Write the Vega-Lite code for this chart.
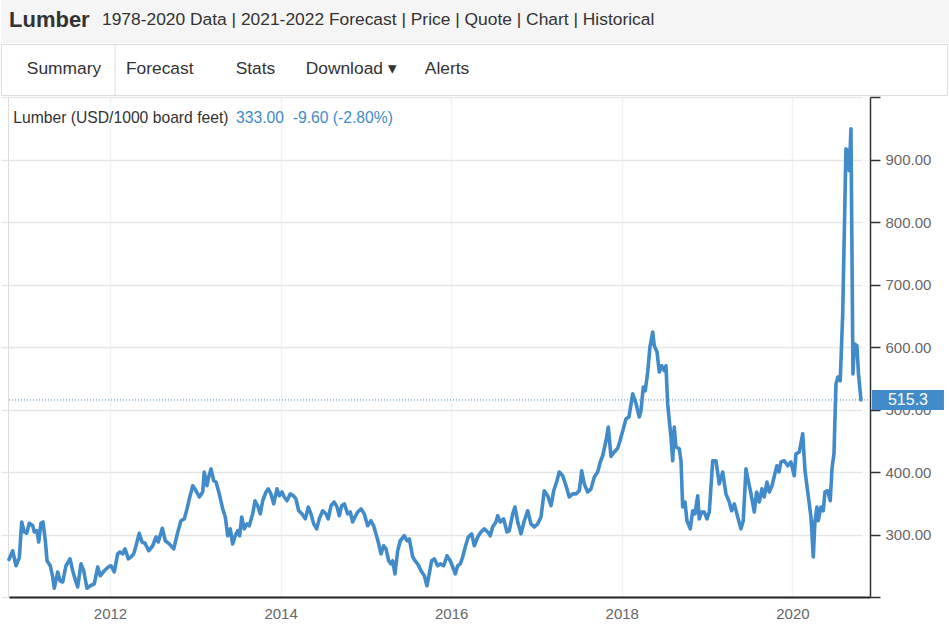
{
  "$schema": "https://vega.github.io/schema/vega-lite/v6.json",
  "padding": 0,
  "background": "#ffffff",
  "spacing": 0,
  "bounds": "full",
  "config": {
    "font": "Liberation Sans",
    "view": {"stroke": null}
  },
  "vconcat": [
    {
      "width": 949,
      "height": 43,
      "view": {"fill": "#f5f5f5", "stroke": null},
      "data": {"values": [{"part": "Lumber"}, {"part": "1978-2020 Data | 2021-2022 Forecast | Price | Quote | Chart | Historical"}]},
      "encoding": {
        "x": {"field": "part", "type": "nominal", "sort": null, "scale": {"type": "point", "range": [8, 101], "padding": 0}, "axis": null},
        "text": {"field": "part", "type": "nominal"}
      },
      "layer": [
        {"transform": [{"filter": "datum.part === 'Lumber'"}], "mark": {"type": "text", "align": "left", "baseline": "middle", "fontSize": 22, "fontWeight": "bold", "color": "#333333", "dy": -2}},
        {"transform": [{"filter": "datum.part !== 'Lumber'"}], "mark": {"type": "text", "align": "left", "baseline": "middle", "fontSize": 17.4, "color": "#333333", "dy": -2}}
      ]
    },
    {
      "width": 946,
      "height": 51,
      "view": {"stroke": "#dddddd", "fill": "#ffffff"},
      "data": {"values": [{"tab": "Summary"}, {"tab": "Forecast"}, {"tab": "Stats"}, {"tab": "Download ▾"}, {"tab": "Alerts"}]},
      "encoding": {"x": {"field": "tab", "type": "nominal", "sort": null, "scale": {"type": "point", "range": [63, 446], "padding": 0}, "axis": null}},
      "layer": [
        {"transform": [{"filter": "datum.tab === 'Summary'"}], "mark": {"type": "rule", "color": "#dddddd", "strokeWidth": 1, "xOffset": 51}},
        {"mark": {"type": "text", "fontSize": 17.4, "color": "#333333", "baseline": "middle", "dy": -1}, "encoding": {"text": {"field": "tab"}}}
      ]
    },
    {
      "width": 869,
      "height": 500,
      "view": {"stroke": null},
      "resolve": {"axis": {"y": "independent"}},
      "layer": [
        {
          "data": {"values": [
            {"year":2010.816,"price":260},{"year":2010.859,"price":274},{"year":2010.898,"price":250},{"year":2010.937,"price":263},{"year":2010.965,"price":320},{"year":2010.995,"price":304},{"year":2011.023,"price":302},{"year":2011.054,"price":318},{"year":2011.094,"price":314},{"year":2011.113,"price":304},
            {"year":2011.144,"price":306},{"year":2011.164,"price":288},{"year":2011.191,"price":318},{"year":2011.215,"price":320},{"year":2011.242,"price":290},{"year":2011.262,"price":258},{"year":2011.300,"price":250},{"year":2011.328,"price":232},{"year":2011.347,"price":214},{"year":2011.387,"price":240},
            {"year":2011.414,"price":226},{"year":2011.446,"price":224},{"year":2011.484,"price":250},{"year":2011.531,"price":261},{"year":2011.563,"price":242},{"year":2011.590,"price":229},{"year":2011.621,"price":216},{"year":2011.660,"price":253},{"year":2011.692,"price":242},{"year":2011.730,"price":214},
            {"year":2011.769,"price":218},{"year":2011.816,"price":221},{"year":2011.856,"price":248},{"year":2011.886,"price":234},{"year":2011.933,"price":242},{"year":2011.980,"price":248},{"year":2012.012,"price":250},{"year":2012.050,"price":240},{"year":2012.090,"price":269},{"year":2012.117,"price":272},
            {"year":2012.149,"price":269},{"year":2012.176,"price":277},{"year":2012.215,"price":261},{"year":2012.246,"price":264},{"year":2012.278,"price":269},{"year":2012.305,"price":282},{"year":2012.343,"price":302},{"year":2012.375,"price":288},{"year":2012.410,"price":286},{"year":2012.454,"price":274},
            {"year":2012.501,"price":282},{"year":2012.539,"price":296},{"year":2012.566,"price":288},{"year":2012.613,"price":310},{"year":2012.648,"price":290},{"year":2012.695,"price":285},{"year":2012.747,"price":277},{"year":2012.791,"price":302},{"year":2012.832,"price":322},{"year":2012.871,"price":325},
            {"year":2012.903,"price":341},{"year":2012.930,"price":357},{"year":2012.970,"price":378},{"year":2013.008,"price":370},{"year":2013.047,"price":360},{"year":2013.087,"price":368},{"year":2013.105,"price":400},{"year":2013.137,"price":378},{"year":2013.157,"price":392},{"year":2013.184,"price":405},
            {"year":2013.216,"price":386},{"year":2013.243,"price":384},{"year":2013.281,"price":365},{"year":2013.321,"price":341},{"year":2013.352,"price":328},{"year":2013.380,"price":298},{"year":2013.410,"price":309},{"year":2013.438,"price":285},{"year":2013.469,"price":298},{"year":2013.497,"price":306},
            {"year":2013.520,"price":298},{"year":2013.544,"price":328},{"year":2013.574,"price":309},{"year":2013.606,"price":317},{"year":2013.633,"price":314},{"year":2013.673,"price":333},{"year":2013.700,"price":354},{"year":2013.731,"price":346},{"year":2013.762,"price":333},{"year":2013.790,"price":354},
            {"year":2013.829,"price":368},{"year":2013.856,"price":373},{"year":2013.887,"price":365},{"year":2013.919,"price":349},{"year":2013.958,"price":373},{"year":2013.985,"price":362},{"year":2014.016,"price":368},{"year":2014.043,"price":360},{"year":2014.075,"price":354},{"year":2014.114,"price":365},
            {"year":2014.149,"price":362},{"year":2014.180,"price":357},{"year":2014.212,"price":338},{"year":2014.251,"price":333},{"year":2014.290,"price":325},{"year":2014.325,"price":344},{"year":2014.356,"price":333},{"year":2014.388,"price":317},{"year":2014.423,"price":309},{"year":2014.454,"price":325},
            {"year":2014.493,"price":338},{"year":2014.532,"price":333},{"year":2014.559,"price":325},{"year":2014.591,"price":346},{"year":2014.629,"price":352},{"year":2014.661,"price":344},{"year":2014.688,"price":330},{"year":2014.716,"price":346},{"year":2014.747,"price":349},{"year":2014.787,"price":333},
            {"year":2014.817,"price":336},{"year":2014.845,"price":320},{"year":2014.872,"price":328},{"year":2014.904,"price":336},{"year":2014.943,"price":341},{"year":2014.981,"price":333},{"year":2015.021,"price":314},{"year":2015.060,"price":322},{"year":2015.091,"price":314},{"year":2015.118,"price":301},
            {"year":2015.145,"price":288},{"year":2015.177,"price":269},{"year":2015.209,"price":282},{"year":2015.236,"price":277},{"year":2015.267,"price":258},{"year":2015.294,"price":253},{"year":2015.314,"price":258},{"year":2015.341,"price":237},{"year":2015.373,"price":274},{"year":2015.403,"price":290},
            {"year":2015.450,"price":298},{"year":2015.482,"price":290},{"year":2015.509,"price":293},{"year":2015.549,"price":264},{"year":2015.576,"price":258},{"year":2015.607,"price":253},{"year":2015.646,"price":242},{"year":2015.685,"price":234},{"year":2015.716,"price":218},{"year":2015.743,"price":237},
            {"year":2015.771,"price":258},{"year":2015.802,"price":261},{"year":2015.842,"price":250},{"year":2015.872,"price":253},{"year":2015.912,"price":250},{"year":2015.951,"price":266},{"year":2015.989,"price":258},{"year":2016.018,"price":248},{"year":2016.048,"price":237},{"year":2016.076,"price":250},
            {"year":2016.107,"price":253},{"year":2016.135,"price":264},{"year":2016.165,"price":280},{"year":2016.200,"price":296},{"year":2016.240,"price":301},{"year":2016.271,"price":282},{"year":2016.311,"price":296},{"year":2016.349,"price":304},{"year":2016.388,"price":309},{"year":2016.428,"price":304},
            {"year":2016.458,"price":298},{"year":2016.486,"price":312},{"year":2016.525,"price":320},{"year":2016.545,"price":330},{"year":2016.576,"price":320},{"year":2016.615,"price":325},{"year":2016.654,"price":304},{"year":2016.681,"price":306},{"year":2016.721,"price":333},{"year":2016.748,"price":344},
            {"year":2016.780,"price":320},{"year":2016.818,"price":301},{"year":2016.857,"price":322},{"year":2016.897,"price":338},{"year":2016.935,"price":317},{"year":2016.974,"price":312},{"year":2017.014,"price":317},{"year":2017.053,"price":328},{"year":2017.091,"price":370},{"year":2017.131,"price":362},
            {"year":2017.170,"price":346},{"year":2017.202,"price":370},{"year":2017.240,"price":386},{"year":2017.267,"price":400},{"year":2017.307,"price":394},{"year":2017.346,"price":378},{"year":2017.384,"price":360},{"year":2017.424,"price":365},{"year":2017.463,"price":365},{"year":2017.502,"price":370},
            {"year":2017.530,"price":402},{"year":2017.560,"price":381},{"year":2017.600,"price":368},{"year":2017.639,"price":373},{"year":2017.678,"price":392},{"year":2017.717,"price":400},{"year":2017.748,"price":416},{"year":2017.776,"price":426},{"year":2017.815,"price":450},{"year":2017.842,"price":472},
            {"year":2017.873,"price":425},{"year":2017.912,"price":432},{"year":2017.952,"price":438},{"year":2017.979,"price":450},{"year":2018.010,"price":465},{"year":2018.049,"price":485},{"year":2018.084,"price":488},{"year":2018.128,"price":525},{"year":2018.166,"price":510},{"year":2018.205,"price":488},
            {"year":2018.225,"price":498},{"year":2018.252,"price":536},{"year":2018.275,"price":530},{"year":2018.304,"price":560},{"year":2018.330,"price":600},{"year":2018.362,"price":624},{"year":2018.381,"price":602},{"year":2018.413,"price":592},{"year":2018.440,"price":560},{"year":2018.468,"price":570},
            {"year":2018.498,"price":562},{"year":2018.518,"price":570},{"year":2018.538,"price":509},{"year":2018.557,"price":482},{"year":2018.577,"price":456},{"year":2018.597,"price":418},{"year":2018.615,"price":472},{"year":2018.635,"price":440},{"year":2018.674,"price":437},{"year":2018.694,"price":418},
            {"year":2018.714,"price":344},{"year":2018.741,"price":352},{"year":2018.764,"price":322},{"year":2018.803,"price":309},{"year":2018.831,"price":338},{"year":2018.858,"price":333},{"year":2018.890,"price":362},{"year":2018.908,"price":325},{"year":2018.937,"price":336},{"year":2018.967,"price":336},
            {"year":2018.999,"price":325},{"year":2019.026,"price":336},{"year":2019.066,"price":418},{"year":2019.104,"price":418},{"year":2019.143,"price":381},{"year":2019.183,"price":400},{"year":2019.221,"price":365},{"year":2019.260,"price":352},{"year":2019.288,"price":338},{"year":2019.319,"price":349},
            {"year":2019.359,"price":328},{"year":2019.397,"price":309},{"year":2019.424,"price":322},{"year":2019.456,"price":405},{"year":2019.483,"price":386},{"year":2019.515,"price":365},{"year":2019.553,"price":336},{"year":2019.581,"price":368},{"year":2019.612,"price":352},{"year":2019.643,"price":373},
            {"year":2019.670,"price":360},{"year":2019.702,"price":384},{"year":2019.729,"price":368},{"year":2019.761,"price":378},{"year":2019.796,"price":398},{"year":2019.819,"price":410},{"year":2019.843,"price":400},{"year":2019.866,"price":416},{"year":2019.905,"price":418},{"year":2019.945,"price":410},
            {"year":2019.983,"price":416},{"year":2020.022,"price":394},{"year":2020.042,"price":429},{"year":2020.081,"price":432},{"year":2020.121,"price":461},{"year":2020.148,"price":402},{"year":2020.198,"price":349},{"year":2020.218,"price":328},{"year":2020.245,"price":264},{"year":2020.265,"price":322},
            {"year":2020.288,"price":344},{"year":2020.303,"price":322},{"year":2020.335,"price":344},{"year":2020.362,"price":338},{"year":2020.382,"price":368},{"year":2020.414,"price":370},{"year":2020.444,"price":354},{"year":2020.464,"price":405},{"year":2020.488,"price":430},{"year":2020.511,"price":541},
            {"year":2020.534,"price":552},{"year":2020.561,"price":546},{"year":2020.590,"price":653},{"year":2020.628,"price":917},{"year":2020.648,"price":914},{"year":2020.667,"price":882},{"year":2020.687,"price":949},{"year":2020.710,"price":557},{"year":2020.728,"price":605},{"year":2020.757,"price":602},
            {"year":2020.775,"price":557},{"year":2020.804,"price":515.3}
          ]},
          "mark": {"type": "line", "color": "#428bca", "strokeWidth": 3.6, "strokeJoin": "round", "strokeCap": "round"},
          "encoding": {
            "x": {
              "field": "year", "type": "quantitative",
              "scale": {"domain": [2010.816, 2020.91], "range": [8, 869], "nice": false, "zero": false},
              "axis": {"values": [2012, 2014, 2016, 2018, 2020], "format": "d", "title": null, "grid": true, "gridColor": "#eef3f8", "gridWidth": 1.5, "ticks": false, "tickSize": 0, "domainColor": "#222222", "domainWidth": 2, "labelColor": "#666666", "labelFontSize": 15, "labelPadding": 9, "labelFont": "Liberation Sans"}
            },
            "y": {
              "field": "price", "type": "quantitative",
              "scale": {"domain": [200, 1000], "nice": false, "zero": false},
              "axis": {"orient": "right", "values": [200, 300, 400, 500, 600, 700, 800, 900, 1000], "labelExpr": "datum.value == 200 || datum.value == 1000 ? '' : format(datum.value, '.2f')", "title": null, "grid": true, "gridColor": "#e6e6e6", "gridWidth": 1.5, "domainColor": "#333333", "domainWidth": 1.5, "tickColor": "#333333", "tickSize": 10, "tickWidth": 1.5, "labelColor": "#666666", "labelFontSize": 15, "labelPadding": 5, "labelFont": "Liberation Sans"}
            }
          }
        },
        {
          "data": {"values": [{"last": 515.3}]},
          "mark": {"type": "rule", "color": "#428bca", "strokeDash": [1, 2], "strokeWidth": 1},
          "encoding": {
            "x": {"datum": 2010.816, "type": "quantitative"},
            "x2": {"datum": 2020.91},
            "y": {"field": "last", "type": "quantitative", "axis": {"orient": "left", "labels": false, "ticks": false, "grid": false, "title": null, "domainColor": "#dddddd", "domainWidth": 1, "offset": -7}}
          }
        },
        {
          "data": {"values": [{"last": 515.3}]},
          "mark": {"type": "rect", "color": "#428bca"},
          "encoding": {
            "x": {"datum": 2020.933, "type": "quantitative"},
            "x2": {"datum": 2021.777},
            "y": {"datum": 499.3, "type": "quantitative", "axis": null},
            "y2": {"datum": 531.3}
          }
        },
        {
          "data": {"values": [{"last": 515.3}]},
          "mark": {"type": "text", "color": "#ffffff", "fontSize": 16, "align": "center", "baseline": "middle"},
          "encoding": {
            "x": {"datum": 2021.355, "type": "quantitative"},
            "y": {"field": "last", "type": "quantitative", "axis": null},
            "text": {"field": "last", "type": "quantitative", "format": ".1f"}
          }
        },
        {
          "data": {"values": [{"label": "Lumber (USD/1000 board feet)"}]},
          "mark": {"type": "text", "color": "#333333", "fontSize": 15.7, "align": "left", "baseline": "alphabetic"},
          "encoding": {
            "x": {"datum": 2010.865, "type": "quantitative"},
            "y": {"datum": 958, "type": "quantitative", "axis": null},
            "text": {"field": "label", "type": "nominal"}
          }
        },
        {
          "data": {"values": [{"quote": "333.00\u00a0 -9.60 (-2.80%)"}]},
          "mark": {"type": "text", "color": "#428bca", "fontSize": 15.7, "align": "left", "baseline": "alphabetic"},
          "encoding": {
            "x": {"datum": 2013.477, "type": "quantitative"},
            "y": {"datum": 958, "type": "quantitative", "axis": null},
            "text": {"field": "quote", "type": "nominal"}
          }
        }
      ]
    }
  ]
}
